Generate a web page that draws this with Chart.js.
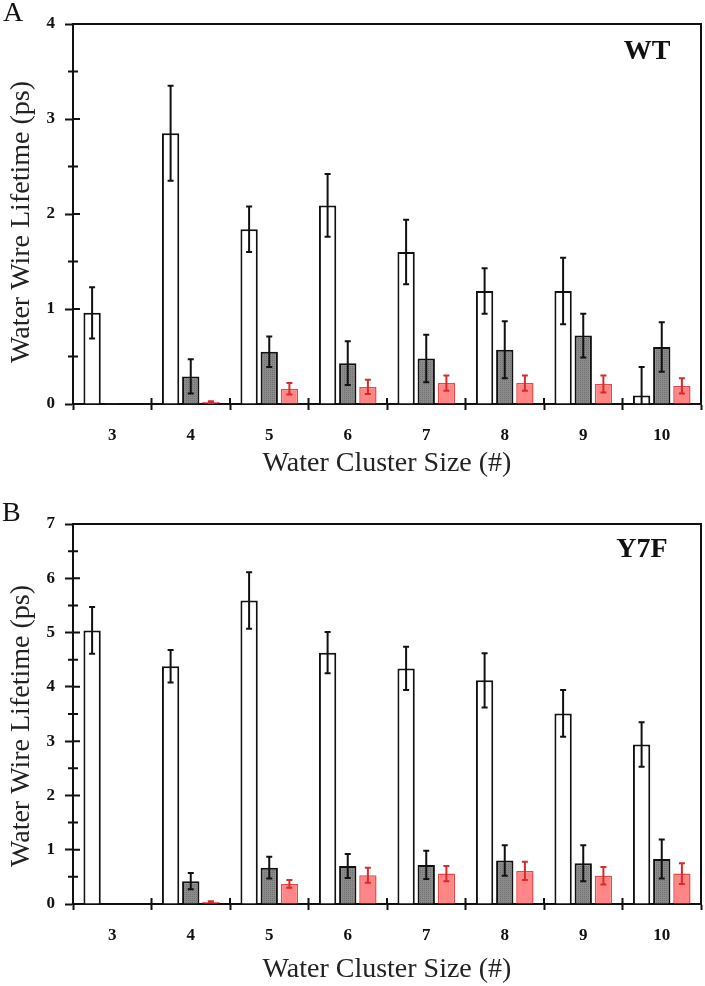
<!DOCTYPE html>
<html>
<head>
<meta charset="utf-8">
<script src="https://cdn.jsdelivr.net/npm/chart.js@4.4.1/dist/chart.umd.min.js"></script>
<style>
body { margin: 0; background: #fff; }
#wrap { position: relative; width: 705px; height: 986px; }
canvas { position: absolute; left: 0; }
</style>
</head>
<body>
<div id="wrap">
<canvas id="chartA" width="705" height="480" style="top:0"></canvas>
<canvas id="chartB" width="705" height="506" style="top:480px"></canvas>
</div>
<script>
var sizes = ["3", "4", "5", "6", "7", "8", "9", "10"];

// panel A - WT
var wtWhite    = [0.96, 2.85, 1.84, 2.09, 1.60, 1.19, 1.19, 0.09];
var wtWhiteErr = [0.27, 0.50, 0.24, 0.33, 0.34, 0.24, 0.35, 0.30];
var wtGray     = [0.01, 0.29, 0.55, 0.43, 0.48, 0.57, 0.72, 0.60];
var wtGrayErr  = [0, 0.18, 0.16, 0.23, 0.25, 0.30, 0.23, 0.26];
var wtRed      = [null, 0.02, 0.16, 0.18, 0.22, 0.22, 0.21, 0.19];
var wtRedErr   = [0, 0.01, 0.06, 0.075, 0.08, 0.08, 0.09, 0.08];

// panel B - Y7F
var y7fWhite    = [5.04, 4.38, 5.59, 4.63, 4.34, 4.12, 3.51, 2.94];
var y7fWhiteErr = [0.43, 0.30, 0.52, 0.38, 0.40, 0.50, 0.43, 0.41];
var y7fGray     = [null, 0.42, 0.67, 0.70, 0.72, 0.80, 0.75, 0.83];
var y7fGrayErr  = [0, 0.15, 0.20, 0.22, 0.26, 0.28, 0.33, 0.36];
var y7fRed      = [null, 0.04, 0.37, 0.53, 0.56, 0.61, 0.52, 0.56];
var y7fRedErr   = [0, 0.01, 0.07, 0.14, 0.14, 0.17, 0.16, 0.19];

var yMaxA = 4, yMaxB = 7;

var serif = "'Liberation Serif', 'Times New Roman', serif";
var ink = '#111';

function dotPattern(ctx) {
	var c = document.createElement('canvas');
	c.width = 2; c.height = 2;
	var g = c.getContext('2d');
	g.fillStyle = '#8a8a8a';
	g.fillRect(0, 0, 2, 2);
	g.fillStyle = '#727272';
	g.fillRect(0, 0, 1, 1);
	return ctx.createPattern(c, 'repeat');
}

// error bars drawn from each bar element and the y scale
var errorBars = {
	id: 'errorBars',
	afterDatasetsDraw: function(chart) {
		var ctx = chart.ctx, y = chart.scales.y;
		chart.data.datasets.forEach(function(ds, i) {
			var meta = chart.getDatasetMeta(i);
			meta.data.forEach(function(bar, j) {
				var v = ds.data[j], e = ds.errors[j];
				if (v == null || !e) return;
				var top = y.getPixelForValue(v + e);
				var bot = y.getPixelForValue(Math.max(0, v - e));
				ctx.save();
				ctx.strokeStyle = ds.errorColor;
				ctx.lineWidth = 2;
				ctx.beginPath();
				ctx.moveTo(bar.x, top); ctx.lineTo(bar.x, bot);
				ctx.moveTo(bar.x - 3, top); ctx.lineTo(bar.x + 3, top);
				if (v - e > 0) { ctx.moveTo(bar.x - 3, bot); ctx.lineTo(bar.x + 3, bot); }
				ctx.stroke();
				ctx.restore();
			});
		});
	}
};

// box, inner ticks, minor ticks and the free text
var frame = {
	id: 'frame',
	afterDraw: function(chart, args, opts) {
		var ctx = chart.ctx, a = chart.chartArea, x = chart.scales.x, y = chart.scales.y;
		ctx.save();
		ctx.strokeStyle = ink;
		ctx.lineWidth = 2;
		ctx.beginPath();
		ctx.moveTo(a.left, a.top); ctx.lineTo(a.right, a.top); ctx.lineTo(a.right, a.bottom);
		y.ticks.forEach(function(t) {
			var py = y.getPixelForValue(t.value);
			var major = t.value % 1 === 0;
			ctx.moveTo(a.left - (major ? 0 : 5), py);
			ctx.lineTo(a.left + (major ? 7 : 5), py);
		});
		for (var i = 1; i < sizes.length; i++) {
			var px = (x.getPixelForValue(i - 1) + x.getPixelForValue(i)) / 2;
			ctx.moveTo(px, a.bottom); ctx.lineTo(px, a.bottom - 6);
		}
		ctx.stroke();

		ctx.fillStyle = ink;
		ctx.textBaseline = 'middle';
		ctx.textAlign = 'left';
		ctx.font = '28px ' + serif;
		ctx.fillText(opts.letter, opts.letterX, opts.letterY);
		ctx.textAlign = 'center';
		ctx.font = 'bold 28px ' + serif;
		ctx.fillText(opts.tag, opts.tagX, opts.tagY);
		ctx.translate(opts.titleX, opts.titleY);
		ctx.rotate(-Math.PI / 2);
		ctx.font = '28px ' + serif;
		ctx.fillStyle = '#222';
		ctx.fillText('Water Wire Lifetime (ps)', 0, 0);
		ctx.restore();
	}
};

function makeChart(id, white, whiteErr, gray, grayErr, red, redErr, yMax, pad, xHeight, titlePad, text) {
	var ctx = document.getElementById(id).getContext('2d');
	var dts = [
		{
			data: white, errors: whiteErr, errorColor: ink,
			backgroundColor: '#ffffff', borderColor: ink, borderWidth: 2
		},
		{
			data: gray, errors: grayErr, errorColor: ink,
			backgroundColor: dotPattern(ctx), borderColor: ink, borderWidth: 2
		},
		{
			data: red, errors: redErr, errorColor: '#d82a2a',
			backgroundColor: '#ff8686', borderColor: '#e84848', borderWidth: 1.5
		}
	];
	return new Chart(ctx, {
		type: 'bar',
		data: { labels: sizes, datasets: dts },
		options: {
			responsive: false,
			animation: false,
			layout: { padding: pad },
			datasets: { bar: { categoryPercentage: 0.77, barPercentage: 0.86 } },
			plugins: {
				legend: { display: false },
				tooltip: { enabled: false },
				frame: text
			},
			scales: {
				x: {
					afterFit: function(s) { s.height = xHeight; },
					grid: { offset: true, drawOnChartArea: false, tickLength: 6, tickWidth: 2, tickColor: ink },
					border: { color: ink, width: 2 },
					ticks: { color: ink, padding: 15, font: { family: serif, size: 17, weight: 'bold' } },
					title: {
						display: true, text: 'Water Cluster Size (#)', color: '#222',
						padding: { top: 0, bottom: titlePad },
						font: { family: serif, size: 28, lineHeight: 1 }
					}
				},
				y: {
					min: 0, max: yMax,
					afterFit: function(s) { s.width = 73; },
					grid: {
						drawOnChartArea: false, tickLength: 8, tickWidth: 2,
						tickColor: function(c) { return c.tick && c.tick.value % 1 === 0 ? ink : 'rgba(0,0,0,0)'; }
					},
					border: { color: ink, width: 2 },
					ticks: {
						stepSize: 0.5, padding: 10, color: ink,
						font: { family: serif, size: 17, weight: 'bold' },
						callback: function(v) { return v % 1 === 0 ? v : ''; }
					}
				}
			}
		},
		plugins: [errorBars, frame]
	});
}

makeChart('chartA', wtWhite, wtWhiteErr, wtGray, wtGrayErr, wtRed, wtRedErr, yMaxA,
	{ top: 24, right: 4, left: 0, bottom: 0 }, 76, 2,
	{ letter: 'A', letterX: 3, letterY: 14, tag: 'WT', tagX: 647, tagY: 52, titleX: 22, titleY: 222 });

makeChart('chartB', y7fWhite, y7fWhiteErr, y7fGray, y7fGrayErr, y7fRed, y7fRedErr, yMaxB,
	{ top: 44, right: 4, left: 0, bottom: 0 }, 82, 2,
	{ letter: 'B', letterX: 2, letterY: 34, tag: 'Y7F', tagX: 642, tagY: 70, titleX: 22, titleY: 246 });
</script>
</body>
</html>
